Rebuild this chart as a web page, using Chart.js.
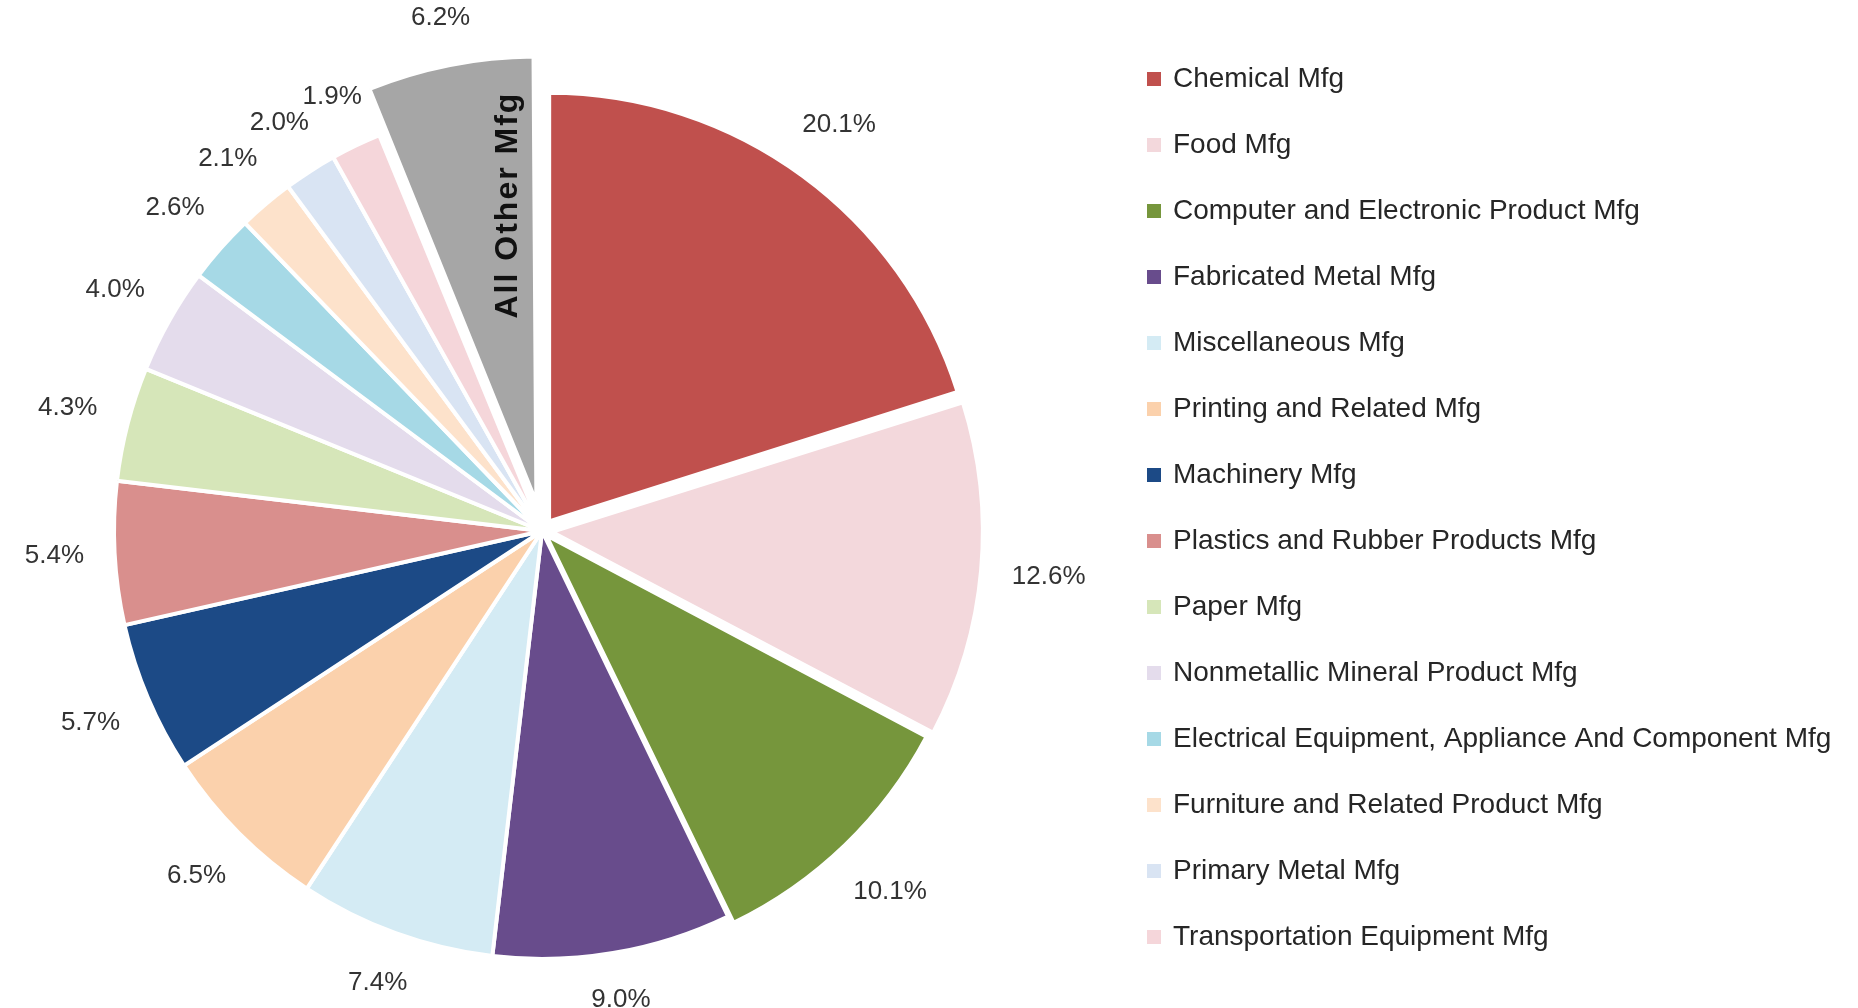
<!DOCTYPE html>
<html lang="en">
<head>
  <meta charset="UTF-8">
  <title>Manufacturing subsectors - share</title>
  <script src="https://cdn.jsdelivr.net/npm/chart.js"></script>
  <style>
    html, body { margin: 0; padding: 0; background: #fff; }
    .wrap { width: 1858px; height: 1008px; position: relative; }
  </style>
</head>
<body>
  <div class="wrap"><canvas id="pie"></canvas></div>
  <script>
    // slices, clockwise from 12 o'clock
    const sectors = [
      'Chemical Mfg',
      'Food Mfg',
      'Computer and Electronic Product Mfg',
      'Fabricated Metal Mfg',
      'Miscellaneous Mfg',
      'Printing and Related Mfg',
      'Machinery Mfg',
      'Plastics and Rubber Products Mfg',
      'Paper Mfg',
      'Nonmetallic Mineral Product Mfg',
      'Electrical Equipment, Appliance And Component Mfg',
      'Furniture and Related Product Mfg',
      'Primary Metal Mfg',
      'Transportation Equipment Mfg',
      'All Other Mfg'
    ];
    const shares = [20.1, 12.6, 10.1, 9.0, 7.4, 6.5, 5.7, 5.4, 4.3, 4.0, 2.6, 2.1, 2.0, 1.9, 6.2];
    const colors = [
      '#c0504d', '#f3d8dc', '#76963c', '#684c8c', '#d4ebf4',
      '#fbd1ac', '#1c4a86', '#d98f8d', '#d6e6b9', '#e4dcec',
      '#a6d9e6', '#fde2cb', '#d9e4f3', '#f5d6da', '#a6a6a6'
    ];
    // pulled-out slices (chart.js offset units)
    const explode = [48, 40, 24, 0, 0, 0, 0, 0, 0, 0, 0, 0, 0, 0, 116];
    const insideLabel = 'All Other Mfg';

    const pieExtras = {
      id: 'pieExtras',
      afterDatasetsDraw(chart) {
        const ctx = chart.ctx;
        const meta = chart.getDatasetMeta(0);
        ctx.save();
        meta.data.forEach((arc, i) => {
          const p = arc.getProps(['x', 'y', 'startAngle', 'endAngle', 'outerRadius', 'circumference'], true);
          const mid = (p.startAngle + p.endAngle) / 2;
          const t = (explode[i] || 0) / 4;
          const grow = t * (1 - Math.sin(Math.min(Math.PI, p.circumference)));
          const cx = p.x + Math.cos(mid) * t;
          const cy = p.y + Math.sin(mid) * t;
          const r = p.outerRadius + grow;

          // outside end percentage label
          const text = shares[i].toFixed(1) + '%';
          ctx.font = '26px "Liberation Sans", Arial, sans-serif';
          const w = ctx.measureText(text).width;
          const c = Math.cos(mid), s = Math.sin(mid);
          const d = r + 30 + Math.abs(c) * w / 2 + Math.abs(s) * 13;
          ctx.fillStyle = '#333333';
          ctx.textAlign = 'center';
          ctx.textBaseline = 'middle';
          ctx.fillText(text, cx + c * d, cy + s * d);

          // name written inside the pulled-out slice
          if (sectors[i] === insideLabel) {
            const a = p.startAngle + 0.76 * (p.endAngle - p.startAngle);
            const rr = 0.67 * r;
            ctx.save();
            ctx.translate(cx + Math.cos(a) * rr, cy + Math.sin(a) * rr);
            ctx.rotate(-Math.PI / 2);
            ctx.font = 'bold 32px "Liberation Sans", Arial, sans-serif';
            ctx.letterSpacing = '2px';
            ctx.fillStyle = '#111111';
            ctx.fillText(sectors[i], 0, 0);
            ctx.restore();
          }
        });

        // legend on the right
        ctx.font = '28px "Liberation Sans", Arial, sans-serif';
        ctx.textAlign = 'left';
        ctx.textBaseline = 'middle';
        let row = 0;
        sectors.forEach((name, i) => {
          if (name === insideLabel) return;
          const y = 79 + row * 66;
          ctx.fillStyle = colors[i];
          ctx.fillRect(1147, y - 7, 14, 14);
          ctx.fillStyle = '#262626';
          ctx.fillText(name, 1173, y);
          row++;
        });
        ctx.restore();
      }
    };

    new Chart(document.getElementById('pie'), {
      type: 'pie',
      data: {
        labels: sectors,
        datasets: [{
          data: shares,
          backgroundColor: colors,
          borderColor: '#ffffff',
          borderWidth: 4,
          offset: explode,
          radius: 428
        }]
      },
      options: {
        responsive: true,
        maintainAspectRatio: false,
        animation: false,
        events: [],
        layout: { padding: { left: 0, right: 774, top: 54, bottom: 0 } },
        plugins: {
          legend: { display: false },
          tooltip: { enabled: false }
        }
      },
      plugins: [pieExtras]
    });
  </script>
</body>
</html>
